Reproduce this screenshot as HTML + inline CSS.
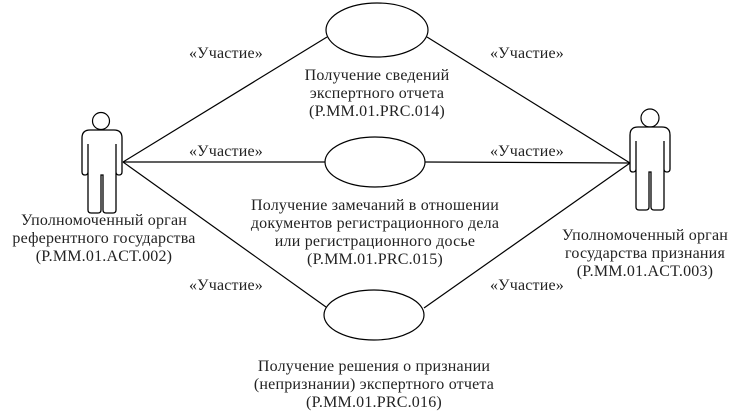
<!DOCTYPE html>
<html><head><meta charset="utf-8"><style>
body{margin:0;background:#fff}
svg{display:block}
text{font-family:"Liberation Serif","DejaVu Serif",serif;font-size:16px;letter-spacing:0.2px}
</style></head><body>
<svg width="747" height="416" viewBox="0 0 747 416" xmlns="http://www.w3.org/2000/svg" text-anchor="middle">
<defs>
<path id="act" d="M8,0 H32 Q40,0 40,8 V42 Q40,45 37,45 Q34,45 34,42 V14 V80 Q34,83 31,83 H24 Q21,83 21,80 V45 H19 V80 Q19,83 16,83 H9 Q6,83 6,80 V14 V42 Q6,45 3,45 Q0,45 0,42 V8 Q0,0 8,0 Z" fill="#fff" stroke="#000" stroke-width="1.3"/>
</defs>
<g stroke="#000" stroke-width="1.2" fill="none">
<line x1="123" y1="162" x2="327" y2="37"/>
<line x1="123" y1="162" x2="325" y2="162"/>
<line x1="123" y1="162" x2="326" y2="307"/>
<line x1="630" y1="163" x2="427" y2="37"/>
<line x1="630" y1="163" x2="425" y2="162"/>
<line x1="630" y1="163" x2="424" y2="308"/>
<ellipse cx="377" cy="30" rx="51" ry="27" fill="#fff"/>
<ellipse cx="375" cy="162" rx="50" ry="25" fill="#fff"/>
<ellipse cx="374" cy="315" rx="50" ry="25" fill="#fff"/>
<circle cx="101" cy="121" r="8.5" fill="#fff"/>
<circle cx="650" cy="118" r="9" fill="#fff"/>
</g>
<use href="#act" transform="translate(82,130)"/>
<use href="#act" transform="translate(630,127)"/>
<g fill="#222">
<text x="226" y="58">«Участие»</text>
<text x="527" y="58">«Участие»</text>
<text x="226" y="156">«Участие»</text>
<text x="527" y="156">«Участие»</text>
<text x="226" y="290">«Участие»</text>
<text x="527" y="290">«Участие»</text>
<text x="377" y="80">Получение сведений</text>
<text x="377" y="98">экспертного отчета</text>
<text x="377" y="116">(P.MM.01.PRC.014)</text>
<text x="375" y="210">Получение замечаний в отношении</text>
<text x="375" y="228">документов регистрационного дела</text>
<text x="375" y="246">или регистрационного досье</text>
<text x="375" y="264">(P.MM.01.PRC.015)</text>
<text x="374" y="371">Получение решения о признании</text>
<text x="374" y="389">(непризнании) экспертного отчета</text>
<text x="374" y="407">(P.MM.01.PRC.016)</text>
<text x="104" y="225">Уполномоченный орган</text>
<text x="104" y="243">референтного государства</text>
<text x="104" y="261">(P.MM.01.ACT.002)</text>
<text x="645" y="240">Уполномоченный орган</text>
<text x="645" y="258">государства признания</text>
<text x="645" y="276">(P.MM.01.ACT.003)</text>
</g>
</svg>
</body></html>
